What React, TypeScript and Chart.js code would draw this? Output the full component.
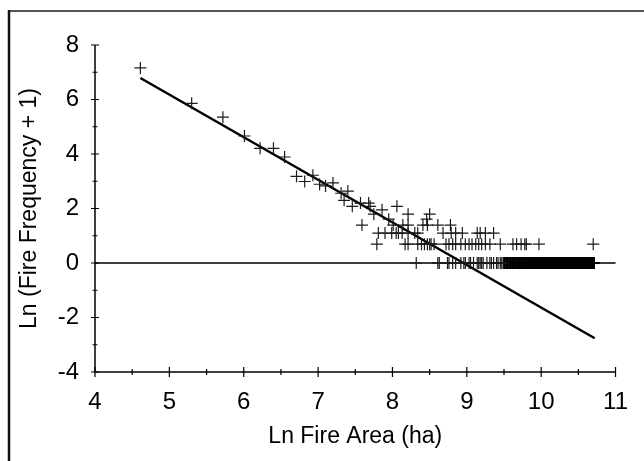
import React, { useEffect, useRef } from "react";
import { Chart, registerables } from "chart.js";

Chart.register(...registerables);

// Individual upper points (Ln area, Ln(freq+1))
const topX = [4.61, 5.30, 5.72, 6.01, 6.22, 6.40, 6.55, 6.71, 6.82, 6.93, 7.02, 7.10, 7.20, 7.31, 7.40, 7.35];
const topY = [7.16, 5.86, 5.35, 4.66, 4.21, 4.21, 3.89, 3.18, 2.99, 3.22, 2.89, 2.83, 2.94, 2.56, 2.64, 2.30];

// Rows of points with equal frequency
const rowY = [2.20, 2.08, 1.95, 1.79, 1.61, 1.39, 1.10, 0.69, 0];
const row220X = [7.57, 7.68];
const row208X = [7.46, 7.70, 8.06];
const row195X = [7.86];
const row179X = [7.75, 8.21, 8.50];
const row161X = [7.95, 8.46];
const row139X = [7.59, 8.01, 8.14, 8.21, 8.41, 8.47, 8.61, 8.78];
const row110X = [7.81, 7.90, 7.99, 8.05, 8.08, 8.13, 8.21, 8.30, 8.34, 8.68, 8.79, 8.85, 8.94, 9.14, 9.18, 9.25, 9.36];
const row069X = [7.79, 8.17, 8.21, 8.34, 8.39, 8.43, 8.47, 8.50, 8.52, 8.56, 8.72, 8.76, 8.81, 8.85, 8.92, 8.98, 9.03, 9.07, 9.12, 9.16, 9.20, 9.25, 9.31, 9.45, 9.62, 9.67, 9.73, 9.78, 9.80, 9.97, 10.70];
const row000X = [8.32, 8.61, 8.63, 8.74, 8.76, 8.81, 8.85, 8.92, 8.96, 8.98, 9.03, 9.05, 9.09, 9.14, 9.16, 9.18, 9.20, 9.22, 9.27, 9.31, 9.33, 9.36, 9.40, 9.42, 9.45, 9.47, 9.49];
// The largest fires: dense run of single-fire area classes (frequency 0 after ln)
const denseX = [
  9.50, 9.51, 9.53, 9.54, 9.55, 9.57, 9.58, 9.59, 9.61, 9.62, 9.63, 9.65, 9.66, 9.67, 9.69, 9.70, 9.71, 9.73, 9.74, 9.75, 9.77, 9.78, 9.79,
  9.81, 9.82, 9.83, 9.85, 9.86, 9.87, 9.89, 9.90, 9.91, 9.93, 9.94, 9.95, 9.97, 9.98, 9.99, 10.01, 10.02, 10.03, 10.05, 10.06, 10.07,
  10.09, 10.10, 10.11, 10.13, 10.14, 10.15, 10.17, 10.18, 10.19, 10.21, 10.22, 10.23, 10.25, 10.26, 10.27, 10.29, 10.30, 10.31, 10.33,
  10.34, 10.35, 10.37, 10.38, 10.39, 10.41, 10.42, 10.43, 10.45, 10.46, 10.47, 10.49, 10.50, 10.51, 10.53, 10.54, 10.55, 10.57, 10.58,
  10.59, 10.61, 10.62, 10.63, 10.65, 10.66, 10.67, 10.69, 10.70, 10.71];
const rowXs = [row220X, row208X, row195X, row179X, row161X, row139X, row110X, row069X, row000X];

// Regression line end points
const regX = [4.61, 10.72];
const regY = [6.79, -2.76];

// Axes
const xMajorTicks = [4, 5, 6, 7, 8, 9, 10, 11];
const xMinorTicks = [4.5, 5.5, 6.5, 7.5, 8.5, 9.5, 10.5];
const yMajorTicks = [8, 6, 4, 2, 0, -2, -4];
const yMinorTicks = [7, 5, 3, 1, -1, -3];

const FONT = "'Liberation Sans', Arial, sans-serif";

export default function App() {
  const ref = useRef<HTMLCanvasElement | null>(null);
  useEffect(() => {
    document.body.style.margin = "0";
    const canvas = ref.current!;
    const points: { x: number; y: number }[] = [];
    topX.forEach((x, i) => points.push({ x, y: topY[i] }));
    rowXs.forEach((xs, r) => xs.forEach((x) => points.push({ x, y: rowY[r] })));
    const dense = denseX.map((x) => ({ x, y: 0 }));
    const reg = regX.map((x, i) => ({ x, y: regY[i] }));

    const framePlugin = {
      id: "frame",
      beforeDraw(chart: any) {
        const ctx = chart.ctx;
        ctx.save();
        ctx.fillStyle = "#fff";
        ctx.fillRect(0, 0, chart.width, chart.height);
        ctx.strokeStyle = "#555";
        ctx.lineWidth = 2;
        ctx.beginPath();
        ctx.moveTo(8, 11);
        ctx.lineTo(chart.width, 11);
        ctx.stroke();
        ctx.strokeStyle = "#111";
        ctx.lineWidth = 2.5;
        ctx.beginPath();
        ctx.moveTo(9, 10);
        ctx.lineTo(9, chart.height);
        ctx.stroke();
        ctx.restore();
      },
      beforeDatasetsDraw(chart: any) {
        const ctx = chart.ctx;
        const xs = chart.scales.x;
        const ys = chart.scales.y;
        const x0 = xs.getPixelForValue(xMajorTicks[0]);
        const x1 = xs.getPixelForValue(xMajorTicks[xMajorTicks.length - 1]);
        const yTop = ys.getPixelForValue(yMajorTicks[0]);
        const yBot = ys.getPixelForValue(yMajorTicks[yMajorTicks.length - 1]);
        const yZero = ys.getPixelForValue(0);
        ctx.save();
        ctx.strokeStyle = "#000";
        ctx.lineWidth = 1.5;
        ctx.beginPath();
        ctx.moveTo(x0, yTop);
        ctx.lineTo(x0, yBot);
        ctx.lineTo(x1, yBot);
        ctx.moveTo(x0, yZero);
        ctx.lineTo(x1, yZero);
        ctx.stroke();
        ctx.lineWidth = 1.2;
        ctx.beginPath();
        yMajorTicks.forEach((v) => {
          const p = ys.getPixelForValue(v);
          ctx.moveTo(x0 - 4, p);
          ctx.lineTo(x0 + 4, p);
        });
        yMinorTicks.forEach((v) => {
          const p = ys.getPixelForValue(v);
          ctx.moveTo(x0 - 2.5, p);
          ctx.lineTo(x0 + 2.5, p);
        });
        xMajorTicks.forEach((v) => {
          const p = xs.getPixelForValue(v);
          ctx.moveTo(p, yBot - 5);
          ctx.lineTo(p, yBot + 5);
        });
        xMinorTicks.forEach((v) => {
          const p = xs.getPixelForValue(v);
          ctx.moveTo(p, yBot - 3);
          ctx.lineTo(p, yBot + 3);
        });
        ctx.stroke();
        ctx.restore();
      },
    };

    const chart = new Chart(canvas, {
      type: "scatter",
      data: {
        datasets: [
          {
            data: points,
            pointStyle: "cross",
            pointRadius: 6,
            pointBorderWidth: 1.2,
            borderColor: "#1a1a1a",
            backgroundColor: "#1a1a1a",
          },
          {
            data: dense,
            pointStyle: "cross",
            pointRadius: 6,
            pointBorderWidth: 2,
            borderColor: "#000",
            backgroundColor: "#000",
          },
          {
            data: reg,
            showLine: true,
            pointRadius: 0,
            borderColor: "#000",
            borderWidth: 2.5,
          } as any,
        ],
      },
      options: {
        animation: false,
        responsive: false,
        devicePixelRatio: 1,
        layout: { padding: { top: 45, right: 20, left: 0, bottom: 0 } },
        plugins: { legend: { display: false }, tooltip: { enabled: false } },
        scales: {
          x: {
            type: "linear",
            min: 4,
            max: 11,
            grid: { display: false, drawTicks: false },
            border: { display: false },
            ticks: { stepSize: 1, padding: 16, color: "#000", font: { family: FONT, size: 24 } },
            title: {
              display: true,
              text: "Ln Fire Area (ha)",
              color: "#000",
              font: { family: FONT, size: 23 },
              padding: { top: 0, bottom: 11 },
            },
            afterFit(scale: any) {
              scale.height = 89;
            },
          },
          y: {
            type: "linear",
            min: -4,
            max: 8,
            grid: { display: false, drawTicks: false },
            border: { display: false },
            ticks: { stepSize: 2, padding: 16, color: "#000", font: { family: FONT, size: 24 } },
            title: {
              display: true,
              text: "Ln (Fire Frequency + 1)",
              color: "#000",
              font: { family: FONT, size: 23 },
              padding: { top: 16, bottom: 0 },
            },
            afterFit(scale: any) {
              scale.width = 95;
            },
          },
        },
      },
      plugins: [framePlugin],
    });
    return () => chart.destroy();
  }, []);
  return (
    <div style={{ width: 644, height: 461 }}>
      <canvas ref={ref} width={644} height={461} style={{ display: "block" }} />
    </div>
  );
}
